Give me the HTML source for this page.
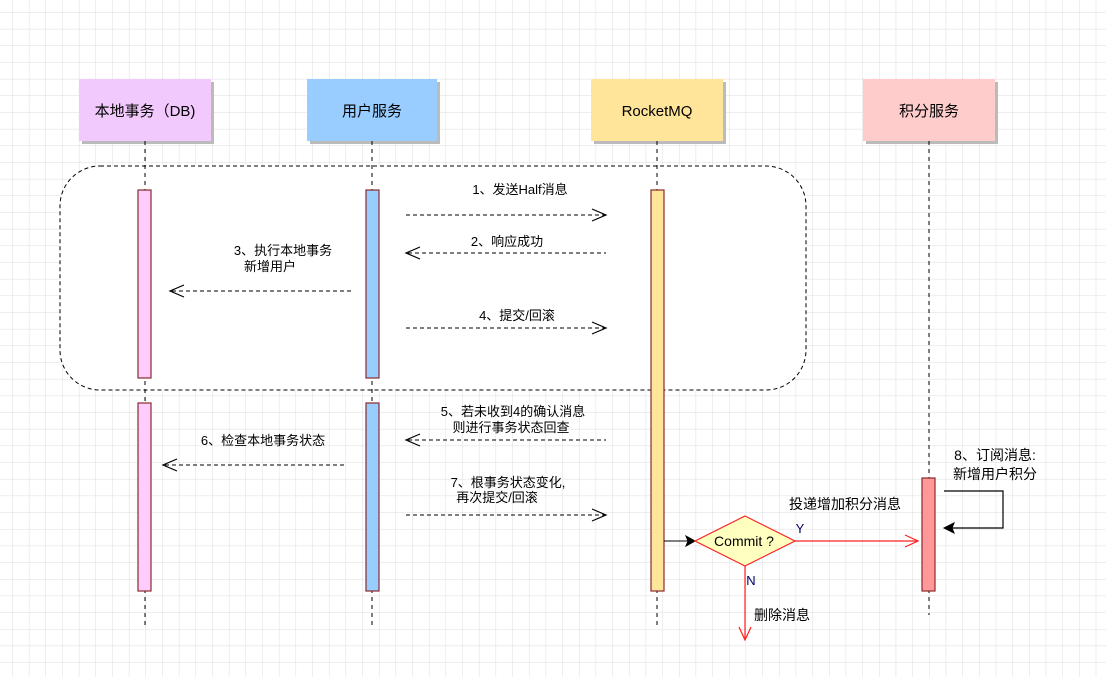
<!DOCTYPE html>
<html><head><meta charset="utf-8"><style>
html,body{margin:0;padding:0;background:#fff}
svg text{font-family:"Liberation Sans","Noto Sans CJK SC",sans-serif;font-size:13px;fill:#000}
svg text.h{font-size:15px}
svg text.b{font-size:14px}
</style></head><body>
<svg width="1106" height="677" viewBox="0 0 1106 677" xmlns="http://www.w3.org/2000/svg">
<defs>
<pattern id="g" width="16.67" height="16.67" patternUnits="userSpaceOnUse" x="-4" y="-4">
<path d="M16.67 0V16.67H0" fill="none" stroke="#dcdcdc" stroke-width="1"/>
</pattern>
</defs>
<rect width="1106" height="677" fill="url(#g)"/>
<rect x="60" y="166" width="746" height="224" rx="40" fill="#fff" stroke="#000" stroke-dasharray="4 3"/>
<g>
<rect x="82" y="82" width="132" height="62" fill="#bbb"/>
<rect x="79" y="79" width="132" height="62" fill="#f2c9fc"/>
<text class="h" x="145" y="116" text-anchor="middle">本地事务（DB)</text>
<rect x="310" y="82" width="130" height="62" fill="#bbb"/>
<rect x="307" y="79" width="130" height="62" fill="#99ccff"/>
<text class="h" x="372" y="116" text-anchor="middle">用户服务</text>
<rect x="594" y="82" width="132" height="62" fill="#bbb"/>
<rect x="591" y="79" width="132" height="62" fill="#ffe599"/>
<text class="h" x="657" y="116" text-anchor="middle">RocketMQ</text>
<rect x="866" y="82" width="132" height="62" fill="#bbb"/>
<rect x="863" y="79" width="132" height="62" fill="#ffcccc"/>
<text class="h" x="929" y="116" text-anchor="middle">积分服务</text>
</g>
<g stroke="#000" stroke-dasharray="4 4">
<line x1="145" y1="141" x2="145" y2="625"/>
<line x1="372" y1="141" x2="372" y2="625"/>
<line x1="657" y1="141" x2="657" y2="625"/>
<line x1="929" y1="141" x2="929" y2="615"/>
</g>
<g stroke="#8b2a2a" stroke-width="1.2">
<rect x="138" y="190" width="13" height="188" fill="#ffccff"/>
<rect x="138" y="403" width="13" height="188" fill="#ffccff"/>
<rect x="366" y="190" width="13" height="188" fill="#99ccff"/>
<rect x="366" y="403" width="13" height="188" fill="#99ccff"/>
<rect x="651" y="190" width="13" height="401" fill="#ffe599"/>
<rect x="922" y="478" width="13" height="113" fill="#ff9999"/>
</g>
<g stroke="#000" fill="none" stroke-dasharray="4 3">
<line x1="406" y1="215" x2="605" y2="215"/>
<line x1="408" y1="253" x2="606" y2="253"/>
<line x1="172" y1="291" x2="354" y2="291"/>
<line x1="406" y1="328" x2="605" y2="328"/>
<line x1="408" y1="440" x2="606" y2="440"/>
<line x1="165" y1="465" x2="347" y2="465"/>
<line x1="406" y1="515" x2="605" y2="515"/>
</g>
<g stroke="#000" fill="none" stroke-width="1.2">
<path d="M592 209L606 215L592 221"/>
<path d="M420 247L406 253L420 259"/>
<path d="M184 285L170 291L184 297"/>
<path d="M592 322L606 328L592 334"/>
<path d="M420 434L406 440L420 446"/>
<path d="M177 459L163 465L177 471"/>
<path d="M592 509L606 515L592 521"/>
</g>
<text x="520" y="194" text-anchor="middle">1、发送Half消息</text>
<text x="507" y="246" text-anchor="middle">2、响应成功</text>
<text x="283" y="255" text-anchor="middle">3、执行本地事务</text>
<text x="270" y="271" text-anchor="middle">新增用户</text>
<text x="517" y="320" text-anchor="middle">4、提交/回滚</text>
<text x="513" y="416" text-anchor="middle">5、若未收到4的确认消息</text>
<text x="511" y="432" text-anchor="middle">则进行事务状态回查</text>
<text x="263" y="445" text-anchor="middle">6、检查本地事务状态</text>
<text x="508" y="487" text-anchor="middle">7、根事务状态变化,</text>
<text x="497" y="502" text-anchor="middle">再次提交/回滚</text>
<line x1="664" y1="541" x2="688" y2="541" stroke="#000"/>
<path d="M686 536L695 541L686 546L688 541Z" fill="#000" stroke="#000"/>
<path d="M695 541L745 516L795 541L745 566Z" fill="#ffffc0" stroke="#ff2020" stroke-width="1.2"/>
<text class="b" x="744" y="546" text-anchor="middle">Commit ?</text>
<line x1="795" y1="541" x2="917" y2="541" stroke="#ff2020" stroke-width="1.2"/>
<path d="M905 535L918 541L905 547" fill="none" stroke="#ff2020" stroke-width="1.2"/>
<line x1="745" y1="566" x2="745" y2="639" stroke="#ff2020" stroke-width="1.2"/>
<path d="M739 627L745 640L751 627" fill="none" stroke="#ff2020" stroke-width="1.2"/>
<text x="800" y="533" text-anchor="middle" style="fill:#000066">Y</text>
<text x="751" y="585" text-anchor="middle" style="fill:#000066">N</text>
<text class="b" x="845" y="509" text-anchor="middle">投递增加积分消息</text>
<text class="b" x="782" y="620" text-anchor="middle">删除消息</text>
<path d="M944 491H1003V528H952" fill="none" stroke="#000" stroke-width="1.2"/>
<path d="M954 523L944 528L954 533L952 528Z" fill="#000" stroke="#000"/>
<text class="b" x="995" y="460" text-anchor="middle">8、订阅消息:</text>
<text class="b" x="995" y="479" text-anchor="middle">新增用户积分</text>
</svg>
</body></html>
